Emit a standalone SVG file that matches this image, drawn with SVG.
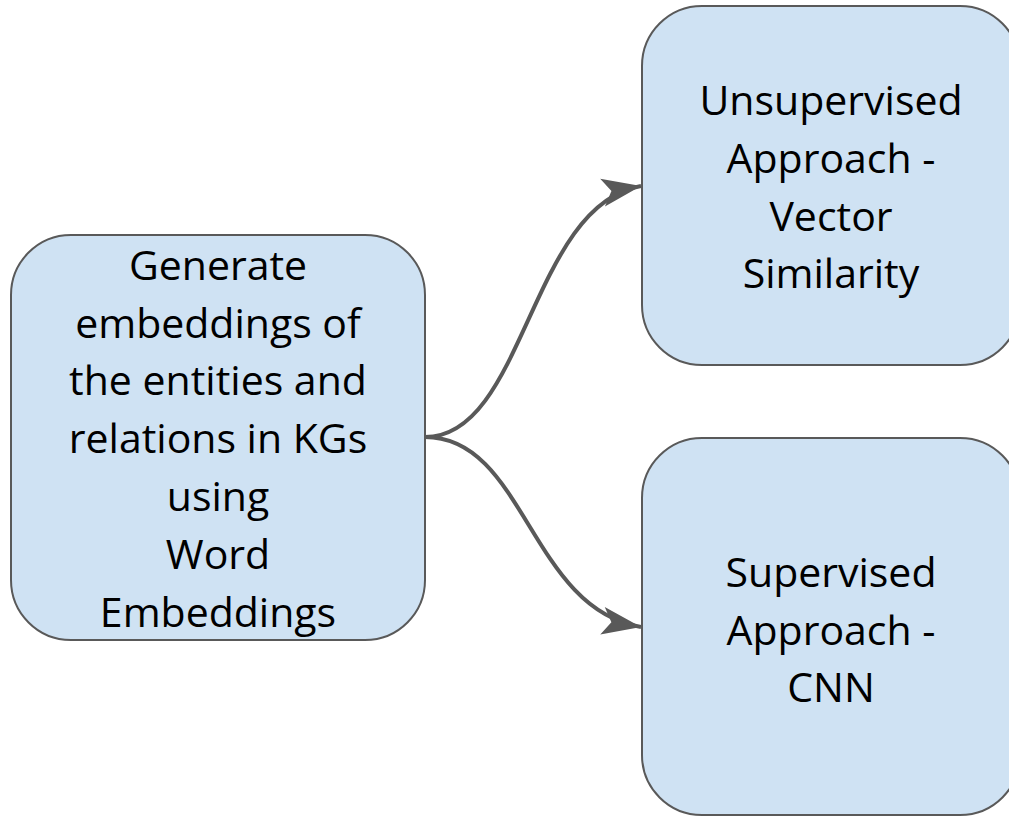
<svg xmlns="http://www.w3.org/2000/svg" width="1009" height="817" viewBox="0 0 1009 817">
<style>
.node{fill:#cfe2f3;stroke:#595959;stroke-width:2}
.lbl{font-family:"Open Sans","Noto Sans",sans-serif;font-size:41px;fill:#000;text-anchor:middle}
.edge{fill:none;stroke:#595959;stroke-width:4}
</style>
<defs>
<marker id="arr" markerUnits="userSpaceOnUse" markerWidth="44" markerHeight="32" refX="39" refY="14" orient="auto" overflow="visible">
<path d="M0,0 L39,14 L0,28 L9,14 Z" fill="#595959"/>
</marker>
</defs>
<rect width="1009" height="817" fill="#fff"/>
<g id="connectors">
<path class="edge" d="M425,437 C525,437 530,205 641,186" marker-end="url(#arr)"/>
<path class="edge" d="M425,437 C525,437 530,609 641,627" marker-end="url(#arr)"/>
</g>
<g id="n1">
<rect class="node" x="11" y="235" width="414" height="405" rx="60" ry="60"/>
<text class="lbl" x="218" y="280">Generate</text>
<text class="lbl" x="218" y="338">embeddings of</text>
<text class="lbl" x="218" y="395">the entities and</text>
<text class="lbl" x="218" y="453">relations in KGs</text>
<text class="lbl" x="218" y="511">using</text>
<text class="lbl" x="218" y="569">Word</text>
<text class="lbl" x="218" y="627">Embeddings</text>
</g>
<g id="n2">
<rect class="node" x="642" y="6" width="378" height="359" rx="60" ry="60"/>
<text class="lbl" x="831" y="115">Unsupervised</text>
<text class="lbl" x="831" y="173">Approach -</text>
<text class="lbl" x="831" y="231">Vector</text>
<text class="lbl" x="831" y="288">Similarity</text>
</g>
<g id="n3">
<rect class="node" x="642" y="438" width="378" height="377" rx="60" ry="60"/>
<text class="lbl" x="831" y="587">Supervised</text>
<text class="lbl" x="831" y="645">Approach -</text>
<text class="lbl" x="831" y="702">CNN</text>
</g>
</svg>
